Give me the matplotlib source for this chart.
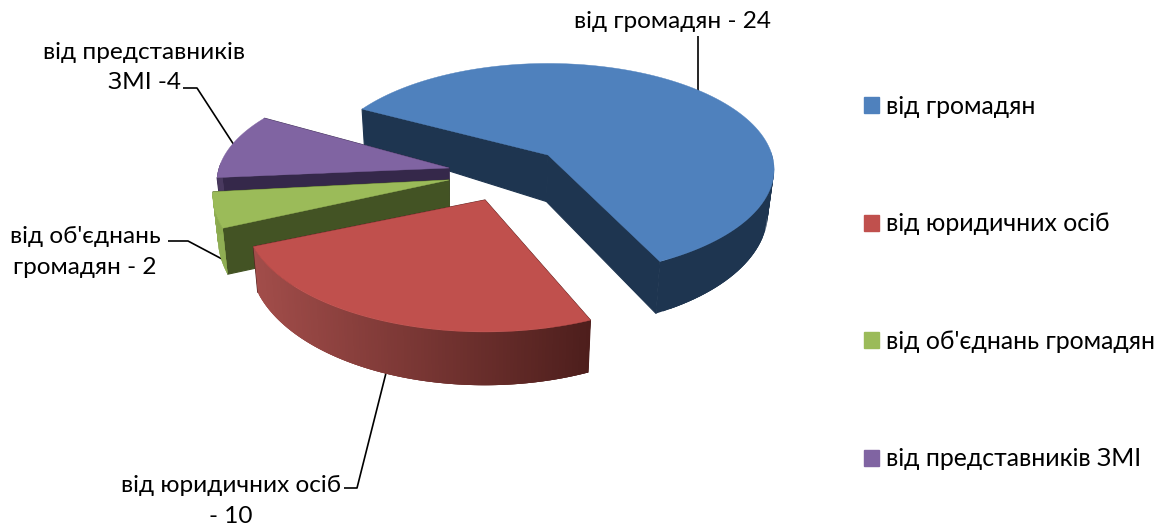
# 3D pie chart (drawn by hand because matplotlib has no perspective pie)
import numpy as np
import matplotlib
matplotlib.use('Agg')
import matplotlib.pyplot as plt
from matplotlib.colors import to_rgb
from matplotlib.patches import Patch, Polygon

plt.rcParams['font.family'] = ['Lato', 'Noto Sans', 'DejaVu Sans']

# data
categories = ['від громадян', 'від юридичних осіб', "від об'єднань громадян", 'від представників ЗМІ']
values = [24, 10, 2, 4]
data_labels = ['від громадян - 24', 'від юридичних осіб\n- 10', "від об'єднань\nгромадян - 2", 'від представників\nЗМІ -4']

# colours: top face, cut face, outer wall left and right
top_colors = ['#4f81bd', '#c0504d', '#9bbb59', '#8064a2']
cut_colors = ['#1e3550', '#4f211f', '#435324', '#35284a']
wall_left = ['#1e3550', '#a24d4a', '#8fae52', '#4a3a60']
wall_right = ['#1e3550', '#4d1e1c', '#8fae52', '#4a3a60']

# geometry in pixels
apex = [(548, 155), (485, 200), (449, 180), (449, 168)]
radius = [224, 238, 234, 230]
radius_y = [104, 114, 112, 104]
turn = [-2, 1.2, 0, 0.8]
start_angle = -60
persp = 0.136
depth = 41
vanish_x = 470


def project(u, v, cx, cy, r, ry):
    s = 1 / (1 - persp * v)
    return cx + r * u * s, cy + ry * v * s


def drop(x, y, v):
    # bottom edge of the side wall
    return vanish_x + (x - vanish_x) * 0.98, y + depth * (1 + 0.3 * v)


def draw_cut(ax, t, i, z):
    cx, cy = apex[i]
    t = np.radians(t)
    u, v = np.sin(t), -np.cos(t)
    x, y = project(u, v, cx, cy, radius[i], radius_y[i])
    bx, by = drop(x, y, v)
    ax0, ay0 = drop(cx, cy, 0.45)
    ax.add_patch(Polygon([(cx, cy), (x, y), (bx, by), (ax0, ay0)], closed=True,
                         fc=cut_colors[i], ec=cut_colors[i], lw=0.8, zorder=z))


def draw_slice(ax, t0, t1, i, z):
    cx, cy = apex[i]
    draw_cut(ax, t0, i, z)
    draw_cut(ax, t1, i, z)

    t = np.radians(np.linspace(t0, t1, 120))
    u, v = np.sin(t), -np.cos(t)
    x, y = project(u, v, cx, cy, radius[i], radius_y[i])
    bx, by = drop(x, y, v)

    # outer wall as a horizontal gradient, each piece laps over the next one
    front = v > -0.05
    if front.any():
        x0, x1 = x[front].min(), x[front].max()
        c0, c1 = np.array(to_rgb(wall_left[i])), np.array(to_rgb(wall_right[i]))
        order = np.argsort(x[front])
        idx = np.arange(len(x))[front][order]
        xs = np.column_stack([x, y])
        bs = np.column_stack([bx, by])
        for a in range(len(idx) - 1):
            b = idx[min(a + 3, len(idx) - 1)]
            k = idx[a]
            f = np.clip((x[k] - x0) / max(x1 - x0, 1), 0, 1)
            c = c0 + (c1 - c0) * f
            ax.add_patch(Polygon([xs[k], xs[b], bs[b], bs[k]], closed=True, fc=c, ec='none', zorder=z + 0.1))

    ax.add_patch(Polygon(np.vstack([[cx, cy], np.column_stack([x, y])]), closed=True,
                         fc=top_colors[i], ec=top_colors[i], lw=0.3, zorder=z + 0.2))


fig = plt.figure(figsize=(11.68, 5.27), dpi=100)
ax = fig.add_axes([0, 0, 1, 1])
ax.set_xlim(0, 1168)
ax.set_ylim(527, 0)
ax.axis('off')

# slices, clockwise from start_angle
ends = start_angle + np.cumsum(values) / np.sum(values) * 360
starts = np.r_[start_angle, ends[:-1]]
draw_order = [0, 3, 2, 1]
for z, i in enumerate(draw_order):
    draw_slice(ax, starts[i] + turn[i], ends[i] + turn[i], i, 2 + z)

# leader lines
leaders = [[(344, 488), (357, 488), (386, 373)],
           [(698, 36), (698, 92)],
           [(168, 241), (188, 241), (222, 259)],
           [(183, 88), (197, 88), (234, 145)]]
for pts in leaders:
    px, py = zip(*pts)
    ax.plot(px, py, color='black', lw=1.2, zorder=1.5, solid_capstyle='butt')

# data labels
label_pos = [(673, 22), (231, 501), (85, 252), (144, 67.5)]
for text, (lx, ly) in zip(data_labels, label_pos):
    ax.text(lx, ly, text, fontsize=17.6, ha='center', va='center', color='black', linespacing=1.55, zorder=10)

# legend
handles = [Patch(fc=c, ec=c, label=n) for c, n in zip(top_colors, categories)]
ax.legend(handles=handles, loc='upper left', bbox_to_anchor=(864, 95), bbox_transform=ax.transData,
          frameon=False, fontsize=17.9, labelspacing=3.8, handlelength=0.6, handleheight=0.6,
          handletextpad=0.28, borderpad=0, borderaxespad=0, labelcolor='black')

fig.savefig('out.png', dpi=100)
